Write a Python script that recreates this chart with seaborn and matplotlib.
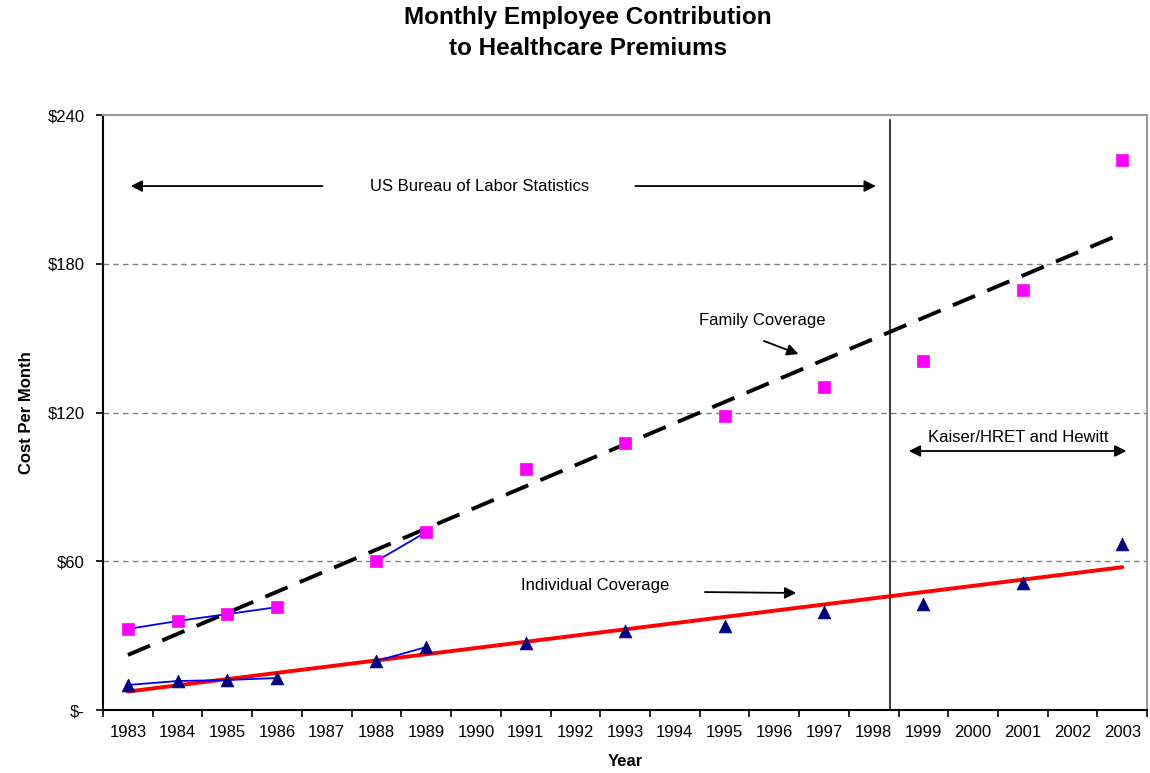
import numpy as np
import pandas as pd
import matplotlib
matplotlib.use('Agg')
import matplotlib.pyplot as plt
import seaborn as sns

# data
years = [1983, 1984, 1985, 1986, 1988, 1989, 1991, 1993, 1995, 1997, 1999, 2001, 2003]
family = [32.7, 35.9, 38.7, 41.5, 60.1, 71.8, 97.2, 107.7, 118.6, 130.3, 140.8, 169.4, 221.9]
individual = [10.1, 11.7, 12.1, 12.9, 19.8, 25.4, 27.0, 31.9, 33.9, 39.5, 42.8, 51.2, 67.0]
# the thin blue connecting lines only join these runs
linked_runs = [[1983, 1984, 1985, 1986], [1988, 1989]]
year_labels = list(range(1983, 2004))
y_ticks = [0, 60, 120, 180, 240]
y_tick_labels = ['$-', '$60', '$120', '$180', '$240']
source_split = 1998.33

df = pd.DataFrame({'Year': years, 'Family': family, 'Individual': individual})

sns.set_style('white')
plt.rcParams['font.family'] = ['Liberation Sans', 'DejaVu Sans']
plt.rcParams['text.color'] = 'black'
plt.rcParams['axes.labelcolor'] = 'black'
plt.rcParams['xtick.color'] = 'black'
plt.rcParams['ytick.color'] = 'black'

fig = plt.figure(figsize=(11.5, 7.73), dpi=100)
ax = fig.add_axes([0.0896, 0.0815, 0.9104 - 0.0025, 0.7695])

# gridlines
for v in y_ticks[1:-1]:
    ax.axhline(v, color='#808080', linestyle=(0, (4, 3)), linewidth=1.0, zorder=0)

# trend lines (linear fits like the spreadsheet trendlines)
sns.regplot(data=df, x='Year', y='Family', ax=ax, scatter=False, ci=None,
            line_kws=dict(color='black', linewidth=2.8, dashes=(6.2, 3.4), zorder=2))
sns.regplot(data=df, x='Year', y='Individual', ax=ax, scatter=False, ci=None,
            line_kws=dict(color='#FF0000', linewidth=2.8, zorder=2))

# thin blue lines across consecutive survey years
for run in linked_runs:
    sub = df[df['Year'].isin(run)]
    sns.lineplot(data=sub, x='Year', y='Family', ax=ax, color='#0000FF', linewidth=1.3, zorder=3)
    sns.lineplot(data=sub, x='Year', y='Individual', ax=ax, color='#0000FF', linewidth=1.3, zorder=3)

# markers
sns.scatterplot(data=df, x='Year', y='Family', ax=ax, marker='s', s=85, color='#FF00FF',
                edgecolor='#FF00FF', linewidth=0.5, zorder=4)
sns.scatterplot(data=df, x='Year', y='Individual', ax=ax, marker='^', s=85, color='#000080',
                edgecolor='#000080', linewidth=0.5, zorder=4)

# data source separator
ax.plot([source_split, source_split], [0, 238], color='#404040', linewidth=1.5, zorder=1)

# annotations
arrow = dict(arrowstyle='-|>', color='black', linewidth=1.3, mutation_scale=17)
ax.text(1990.08, 211.4, 'US Bureau of Labor Statistics', ha='center', va='center', fontsize=12)
ax.annotate('', xy=(1983.0, 211.4), xytext=(1986.97, 211.4), arrowprops=arrow)
ax.annotate('', xy=(1998.1, 211.4), xytext=(1993.15, 211.4), arrowprops=arrow)

ax.text(2000.91, 110.1, 'Kaiser/HRET and Hewitt', ha='center', va='center', fontsize=12)
ax.annotate('', xy=(2003.14, 104.5), xytext=(1998.65, 104.5),
            arrowprops=dict(arrowstyle='<|-|>', color='black', linewidth=1.3, mutation_scale=17))

ax.text(1995.76, 157.3, 'Family Coverage', ha='center', va='center', fontsize=12)
ax.annotate('', xy=(1996.54, 143.2), xytext=(1995.74, 149.3), arrowprops=arrow)

ax.text(1992.39, 50.4, 'Individual Coverage', ha='center', va='center', fontsize=12)
ax.annotate('', xy=(1996.5, 47.2), xytext=(1994.55, 47.6), arrowprops=arrow)

# axes
ax.set_xlim(1982.5, 2003.5)
ax.set_ylim(0, 240)
ax.set_xticks(np.arange(1982.5, 2004, 1.0))
ax.set_xticklabels([])
ax.set_xticks(year_labels, minor=True)
ax.set_xticklabels([str(y) for y in year_labels], minor=True, fontsize=12)
ax.tick_params(axis='x', which='major', direction='out', length=5, width=1.2, color='black', bottom=True)
ax.tick_params(axis='x', which='minor', length=0, pad=11, bottom=True)
ax.set_yticks(y_ticks)
ax.set_yticklabels(y_tick_labels, fontsize=12)
ax.tick_params(axis='y', direction='out', length=5, width=1.2, color='black', left=True, pad=8)

for side in ['left', 'bottom']:
    ax.spines[side].set_color('black')
    ax.spines[side].set_linewidth(1.5)
for side in ['top', 'right']:
    ax.spines[side].set_color('#999999')
    ax.spines[side].set_linewidth(1.5)

ax.set_xlabel('Year', fontsize=12, fontweight='bold', labelpad=10)
ax.set_ylabel('Cost Per Month', fontsize=12, fontweight='bold', labelpad=10)
if ax.get_legend():
    ax.get_legend().remove()

fig.suptitle('Monthly Employee Contribution\nto Healthcare Premiums', fontsize=17.5, fontweight='bold',
             x=0.511, y=0.992, linespacing=1.45)

fig.savefig('out.png', dpi=100)
